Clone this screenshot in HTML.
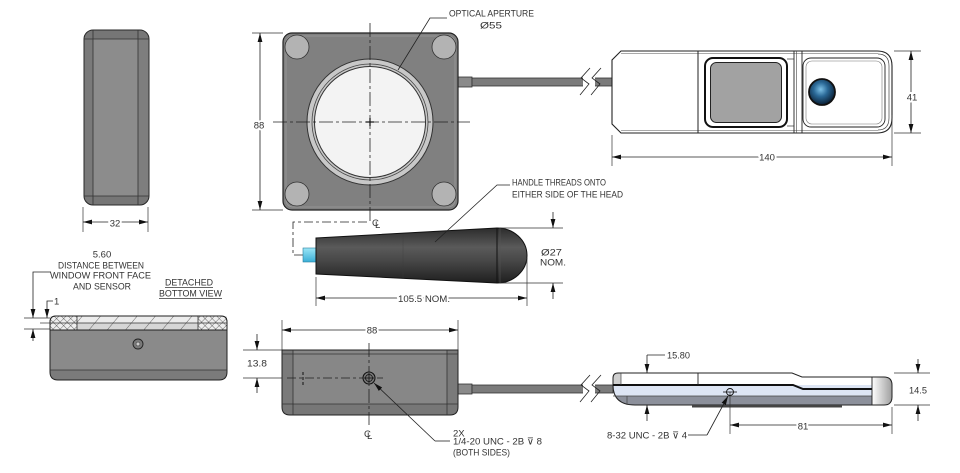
<!DOCTYPE html>
<html><head><meta charset="utf-8"><style>
html,body{margin:0;padding:0;background:#fff;}
svg{display:block}
text{font-family:"Liberation Sans","DejaVu Sans",sans-serif;font-size:9.5px;fill:#333;}
.h{paint-order:stroke;stroke:#fff;stroke-width:4px;stroke-linejoin:round}
.d{stroke:#222;stroke-width:0.8;fill:none}
.e{stroke:#333;stroke-width:0.7;fill:none}
.c{stroke:#222;stroke-width:0.8;fill:none;stroke-dasharray:14 3 3 3}
</style></head><body>
<svg width="960" height="473" viewBox="0 0 960 473" xmlns="http://www.w3.org/2000/svg">
<defs>
<marker id="a" markerUnits="userSpaceOnUse" markerWidth="9" markerHeight="6" refX="9" refY="3" orient="auto-start-reverse"><path d="M0,0.6 L9,3 L0,5.4z" fill="#111"/></marker>
<linearGradient id="hg" x1="0" y1="0" x2="0" y2="1">
<stop offset="0" stop-color="#2c2c2c"/><stop offset="0.35" stop-color="#5a5a5a"/><stop offset="0.6" stop-color="#474747"/><stop offset="1" stop-color="#1f1f1f"/></linearGradient>
<linearGradient id="st" x1="0" y1="0" x2="0" y2="1"><stop offset="0" stop-color="#9be6f7"/><stop offset="1" stop-color="#3aaed6"/></linearGradient>
<radialGradient id="bd" cx="0.45" cy="0.4" r="0.6"><stop offset="0" stop-color="#7cc0e6"/><stop offset="0.45" stop-color="#2a6896"/><stop offset="1" stop-color="#0a1e33"/></radialGradient>
<linearGradient id="re" x1="0" y1="0" x2="1" y2="0"><stop offset="0" stop-color="#fff"/><stop offset="1" stop-color="#9a9a9a"/></linearGradient>
<pattern id="hx" width="14" height="14" patternUnits="userSpaceOnUse" patternTransform="rotate(40)"><line x1="0" y1="0" x2="0" y2="14" stroke="#444" stroke-width="0.8"/></pattern>
<pattern id="cx" width="5" height="5" patternUnits="userSpaceOnUse" patternTransform="rotate(45)"><line x1="0" y1="0" x2="0" y2="5" stroke="#333" stroke-width="0.7"/><line x1="0" y1="0" x2="5" y2="0" stroke="#333" stroke-width="0.7"/></pattern>
<clipPath id="sv"><rect x="84" y="30" width="65" height="175" rx="9"/></clipPath>
<clipPath id="sc"><path d="M618,373 H792 L802,377 H884 Q892,377 892,385 V397 Q892,405 884,405 H635 Q613,405 613,385 V378 Q613,373 618,373 Z"/></clipPath>
<clipPath id="fv"><path d="M282,350 H458 V407 Q458,415 450,415 H290 Q282,415 282,407 Z"/></clipPath>
<clipPath id="bv"><path d="M50,330 H227 V372 Q227,380 219,380 H58 Q50,380 50,372 Z"/></clipPath>
</defs>

<!-- ===== Top-left side view ===== -->
<g clip-path="url(#sv)">
<rect x="84" y="30" width="65" height="175" fill="#8c8c8c"/>
<rect x="84" y="30" width="9" height="175" fill="#7a7a7a"/>
<rect x="138" y="30" width="11" height="175" fill="#7e7e7e"/>
<rect x="84" y="30" width="65" height="9" fill="#767676"/>
<rect x="84" y="196" width="65" height="9" fill="#767676"/>
</g>
<rect x="84" y="30" width="65" height="175" rx="9" fill="none" stroke="#2a2a2a" stroke-width="1"/>
<line x1="93" y1="30" x2="93" y2="205" stroke="#333" stroke-width="0.8"/>
<line x1="138" y1="30" x2="138" y2="205" stroke="#333" stroke-width="0.8"/>
<line x1="84" y1="39" x2="149" y2="39" stroke="#333" stroke-width="0.8"/>
<line x1="84" y1="196" x2="149" y2="196" stroke="#333" stroke-width="0.8"/>
<line class="e" x1="83" y1="207" x2="83" y2="232"/>
<line class="e" x1="148" y1="207" x2="148" y2="232"/>
<line class="d" x1="83" y1="222" x2="148" y2="222" marker-start="url(#a)" marker-end="url(#a)"/>
<text class="h" x="115" y="226.5" text-anchor="middle">32</text>

<!-- ===== Head front ===== -->
<line class="e" x1="252" y1="33" x2="283" y2="33"/>
<line class="e" x1="252" y1="210" x2="283" y2="210"/>
<line class="d" x1="260" y1="33" x2="260" y2="210" marker-start="url(#a)" marker-end="url(#a)"/>
<text class="h" x="259" y="128.5" text-anchor="middle">88</text>

<rect x="458" y="77" width="14" height="10" fill="#8a8a8a" stroke="#333" stroke-width="0.8"/>
<rect x="472" y="78" width="141" height="8" fill="#7b7b7b" stroke="#333" stroke-width="0.8"/>
<rect x="583" y="66" width="12" height="32" fill="#fff"/>
<path d="M590,68 L581,78 L589,84 L580,95" class="d" stroke-width="1"/>
<path d="M601,68 L592,78 L600,84 L591,95" class="d" stroke-width="1"/>

<rect x="283" y="33" width="175" height="177" rx="9" fill="#808080" stroke="#222" stroke-width="1.2"/>
<rect x="286" y="36" width="169" height="171" rx="7" fill="none" stroke="#9a9a9a" stroke-width="0.8"/>
<circle cx="297" cy="47" r="12" fill="#b3b3b3" stroke="#333" stroke-width="0.8"/>
<circle cx="444" cy="47" r="12" fill="#b3b3b3" stroke="#333" stroke-width="0.8"/>
<circle cx="297" cy="194" r="12" fill="#b3b3b3" stroke="#333" stroke-width="0.8"/>
<circle cx="444" cy="194" r="12" fill="#b3b3b3" stroke="#333" stroke-width="0.8"/>
<circle cx="370" cy="122" r="63" fill="#c8c8c8" stroke="#333" stroke-width="1"/>
<circle cx="370" cy="122" r="58" fill="none" stroke="#444" stroke-width="0.8"/>
<circle cx="370" cy="122" r="55.5" fill="#f3f3f3" stroke="#333" stroke-width="1"/>
<line class="c" x1="273" y1="122" x2="470" y2="122"/>
<line class="c" x1="370" y1="23" x2="370" y2="222"/>
<line x1="366" y1="122" x2="374" y2="122" stroke="#111" stroke-width="1.2"/>
<line x1="370" y1="118" x2="370" y2="126" stroke="#111" stroke-width="1.2"/>

<path class="d" d="M398,70 L430,18 L447,18"/>
<text x="449" y="16.5" textLength="85" lengthAdjust="spacingAndGlyphs">OPTICAL APERTURE</text>
<text x="480" y="28.5" textLength="22" lengthAdjust="spacingAndGlyphs">Ø55</text>

<!-- ===== Top right device ===== -->
<path d="M621,51 H877 Q892,51 892,66 V118 Q892,133 877,133 H621 L612,124 V60 Z" fill="#fff" stroke="#222" stroke-width="1.1"/>
<line x1="621" y1="53.5" x2="878" y2="53.5" stroke="#555" stroke-width="0.6"/>
<line x1="621" y1="130.5" x2="878" y2="130.5" stroke="#555" stroke-width="0.6"/>
<path d="M878,54 Q889,54 889,66 V118 Q889,130 878,130" fill="none" stroke="#444" stroke-width="0.7"/>
<line x1="698" y1="51" x2="698" y2="133" stroke="#222" stroke-width="1"/>
<line x1="794" y1="51" x2="794" y2="133" stroke="#222" stroke-width="0.9"/>
<line x1="796.5" y1="51" x2="796.5" y2="133" stroke="#444" stroke-width="0.6"/>
<line x1="802" y1="51" x2="802" y2="133" stroke="#222" stroke-width="0.9"/>
<line x1="787" y1="59" x2="794" y2="59" stroke="#333" stroke-width="0.7"/>
<line x1="787" y1="126" x2="794" y2="126" stroke="#333" stroke-width="0.7"/>
<rect x="705" y="58" width="82" height="69" rx="8" fill="#fff" stroke="#111" stroke-width="2"/>
<rect x="710.5" y="62.5" width="71" height="60" rx="6" fill="#a2a2a2" stroke="#222" stroke-width="1"/>
<rect x="803" y="58" width="82" height="69" rx="8" fill="none" stroke="#222" stroke-width="0.9"/>
<rect x="806" y="61" width="76" height="63" rx="6" fill="none" stroke="#777" stroke-width="0.6"/>
<circle cx="822" cy="92" r="13" fill="url(#bd)" stroke="#111" stroke-width="1.8"/>

<line class="e" x1="894" y1="51" x2="921" y2="51"/>
<line class="e" x1="894" y1="133" x2="921" y2="133"/>
<line class="d" x1="911" y1="51" x2="911" y2="133" marker-start="url(#a)" marker-end="url(#a)"/>
<text class="h" x="912" y="100.5" text-anchor="middle">41</text>
<line class="e" x1="612" y1="135" x2="612" y2="166"/>
<line class="e" x1="892" y1="115" x2="892" y2="166"/>
<line class="d" x1="612" y1="157" x2="892" y2="157" marker-start="url(#a)" marker-end="url(#a)"/>
<text class="h" x="767" y="160.5" text-anchor="middle">140</text>

<!-- ===== Handle ===== -->
<path d="M303,255 H293 V222 H370" fill="none" stroke="#222" stroke-width="0.8" stroke-dasharray="9 3 3 3"/>
<text x="372" y="226" font-size="10">C</text><text x="375" y="228" font-size="8">L</text>
<rect x="303" y="248" width="13" height="14" fill="url(#st)" stroke="#2a7f9e" stroke-width="0.6"/>
<path d="M316,238 L497,228 A30,27.5 0 0 1 497,283 L316,274 Z" fill="url(#hg)" stroke="#111" stroke-width="1"/>
<line x1="497" y1="228" x2="497" y2="283" stroke="#111" stroke-width="1"/>
<line x1="500" y1="228" x2="500" y2="283" stroke="#555" stroke-width="0.6"/>
<line x1="403" y1="234" x2="403" y2="279" stroke="#3a3a3a" stroke-width="0.5" opacity="0.6"/>
<path class="d" d="M435,242 L497,185 L510,185"/>
<text x="512" y="185.5" textLength="94" lengthAdjust="spacingAndGlyphs">HANDLE THREADS ONTO</text>
<text x="512" y="197.5" textLength="111" lengthAdjust="spacingAndGlyphs">EITHER SIDE OF THE HEAD</text>
<line class="e" x1="500" y1="228" x2="563" y2="228"/>
<line class="e" x1="500" y1="283" x2="563" y2="283"/>
<line class="d" x1="553" y1="212" x2="553" y2="228" marker-end="url(#a)"/>
<line class="d" x1="553" y1="299" x2="553" y2="283" marker-end="url(#a)"/>
<text x="541" y="255.5" textLength="21" lengthAdjust="spacingAndGlyphs">Ø27</text>
<text x="540" y="265.5" textLength="26" lengthAdjust="spacingAndGlyphs">NOM.</text>
<line class="e" x1="316" y1="277" x2="316" y2="306"/>
<line class="e" x1="527" y1="258" x2="527" y2="306"/>
<line class="d" x1="316" y1="298" x2="527" y2="298" marker-start="url(#a)" marker-end="url(#a)"/>
<text class="h" x="398" y="302" textLength="52" lengthAdjust="spacingAndGlyphs">105.5 NOM.</text>

<!-- ===== Bottom-left detached view ===== -->
<text x="102" y="257.5" text-anchor="middle">5.60</text>
<text x="58" y="268.5" textLength="86" lengthAdjust="spacingAndGlyphs">DISTANCE BETWEEN</text>
<text x="50" y="278.5" textLength="101" lengthAdjust="spacingAndGlyphs">WINDOW FRONT FACE</text>
<text x="73" y="289.5" textLength="58" lengthAdjust="spacingAndGlyphs">AND SENSOR</text>
<text x="165" y="285.5" textLength="48" lengthAdjust="spacingAndGlyphs">DETACHED</text>
<line x1="165" y1="287.5" x2="213" y2="287.5" stroke="#333" stroke-width="0.7"/>
<text x="159" y="296.5" textLength="63" lengthAdjust="spacingAndGlyphs">BOTTOM VIEW</text>
<line x1="159" y1="298.5" x2="222" y2="298.5" stroke="#333" stroke-width="0.7"/>
<path class="d" d="M51,272 H33 V318" marker-end="url(#a)"/>
<line class="d" x1="33" y1="341" x2="33" y2="329" marker-end="url(#a)"/>
<path class="d" d="M53,301 H47 V318" marker-end="url(#a)"/>
<text x="54" y="304.5">1</text>
<line class="e" x1="24" y1="318" x2="50" y2="318"/>
<line class="e" x1="24" y1="329" x2="50" y2="329"/>
<line class="e" x1="40" y1="323" x2="50" y2="323"/>

<rect x="50" y="316" width="177" height="7" fill="#ececec"/>
<rect x="50" y="316" width="177" height="7" fill="url(#hx)"/>
<rect x="50" y="323" width="177" height="7" fill="#d6d6d6"/>
<rect x="50" y="323" width="177" height="7" fill="url(#hx)"/>
<path d="M56,316 H77 V330 H50 V322 Q50,316 56,316 Z" fill="#eee"/>
<path d="M56,316 H77 V330 H50 V322 Q50,316 56,316 Z" fill="url(#cx)" stroke="#333" stroke-width="0.8"/>
<path d="M198,316 H221 Q227,316 227,322 V330 H198 Z" fill="#eee"/>
<path d="M198,316 H221 Q227,316 227,322 V330 H198 Z" fill="url(#cx)" stroke="#333" stroke-width="0.8"/>
<path d="M56,316 H221 Q227,316 227,322 V330 H50 V322 Q50,316 56,316 Z" fill="none" stroke="#222" stroke-width="1"/>
<line x1="50" y1="323" x2="227" y2="323" stroke="#333" stroke-width="0.8"/>
<g clip-path="url(#bv)">
<rect x="50" y="330" width="177" height="50" fill="#8a8a8a"/>
<rect x="50" y="370" width="177" height="10" fill="#7b7b7b"/>
</g>
<path d="M50,330 H227 V372 Q227,380 219,380 H58 Q50,380 50,372 Z" fill="none" stroke="#222" stroke-width="1"/>
<line x1="50" y1="370" x2="227" y2="370" stroke="#333" stroke-width="0.8"/>
<circle cx="138" cy="344" r="5" fill="#7a7a7a" stroke="#222" stroke-width="0.9"/>
<circle cx="138" cy="344" r="2" fill="#ccc" stroke="#333" stroke-width="0.5"/>

<!-- ===== Bottom center front view ===== -->
<line class="e" x1="282" y1="320" x2="282" y2="350"/>
<line class="e" x1="458" y1="320" x2="458" y2="350"/>
<line class="d" x1="282" y1="330" x2="458" y2="330" marker-start="url(#a)" marker-end="url(#a)"/>
<text class="h" x="372" y="333.5" text-anchor="middle">88</text>
<line class="e" x1="243" y1="350" x2="282" y2="350"/>
<line class="e" x1="243" y1="378" x2="282" y2="378"/>
<line class="d" x1="257" y1="334" x2="257" y2="350" marker-end="url(#a)"/>
<line class="d" x1="257" y1="393" x2="257" y2="378" marker-end="url(#a)"/>
<text x="247" y="366.5" textLength="20" lengthAdjust="spacingAndGlyphs">13.8</text>

<rect x="458" y="384" width="14" height="10" fill="#8a8a8a" stroke="#333" stroke-width="0.8"/>
<rect x="472" y="385" width="141" height="8" fill="#7b7b7b" stroke="#333" stroke-width="0.8"/>
<rect x="583" y="373" width="12" height="32" fill="#fff"/>
<path d="M590,375 L581,385 L589,391 L580,402" class="d" stroke-width="1"/>
<path d="M601,375 L592,385 L600,391 L591,402" class="d" stroke-width="1"/>

<g clip-path="url(#fv)">
<rect x="282" y="350" width="176" height="65" fill="#878787"/>
<rect x="282" y="350" width="11" height="65" fill="#7a7a7a"/>
<rect x="447" y="350" width="11" height="65" fill="#7a7a7a"/>
<rect x="282" y="404" width="176" height="11" fill="#777"/>
</g>
<path d="M282,350 H458 V407 Q458,415 450,415 H290 Q282,415 282,407 Z" fill="none" stroke="#222" stroke-width="1"/>
<line x1="293" y1="350" x2="293" y2="415" stroke="#333" stroke-width="0.8"/>
<line x1="447" y1="350" x2="447" y2="415" stroke="#333" stroke-width="0.8"/>
<line x1="282" y1="354" x2="458" y2="354" stroke="#333" stroke-width="0.8"/>
<line x1="282" y1="404" x2="458" y2="404" stroke="#333" stroke-width="0.8"/>
<line x1="287" y1="378" x2="383" y2="378" stroke="#222" stroke-width="0.8" stroke-dasharray="9 3 3 3"/>
<line x1="303" y1="372" x2="303" y2="385" stroke="#111" stroke-width="1" stroke-dasharray="3 2"/>
<line class="c" x1="369" y1="343" x2="369" y2="425"/>
<circle cx="369" cy="378" r="6" fill="#777" stroke="#111" stroke-width="1.1"/>
<circle cx="369" cy="378" r="3.5" fill="none" stroke="#111" stroke-width="0.8"/>
<line x1="364" y1="378" x2="374" y2="378" stroke="#111" stroke-width="0.8"/>
<line x1="369" y1="373" x2="369" y2="383" stroke="#111" stroke-width="0.8"/>
<text x="364" y="437" font-size="10">C</text><text x="367" y="439" font-size="8">L</text>
<path class="d" d="M435,441 L374,383" marker-end="url(#a)"/>
<line class="d" x1="435" y1="441" x2="450" y2="441"/>
<text x="453" y="436.5">2X</text>
<text x="453" y="444.5" textLength="89" lengthAdjust="spacingAndGlyphs">1/4-20 UNC - 2B ⊽ 8</text>
<text x="453" y="455.5" textLength="57" lengthAdjust="spacingAndGlyphs">(BOTH SIDES)</text>

<!-- ===== Bottom right side view ===== -->
<g clip-path="url(#sc)">
<rect x="613" y="370" width="280" height="40" fill="#fff"/>
<rect x="613" y="385" width="280" height="11" fill="#dde5f4"/>
<rect x="613" y="396" width="280" height="10" fill="#8c909b"/>
<rect x="613" y="370" width="8" height="16" fill="#cfcfcf"/>
<rect x="872" y="370" width="21" height="40" fill="url(#re)"/>
</g>
<path d="M618,373 H792 L802,377 H884 Q892,377 892,385 V397 Q892,405 884,405 H635 Q613,405 613,385 V378 Q613,373 618,373 Z" fill="none" stroke="#222" stroke-width="1"/>
<path d="M613,385 H793 L803,389 H872" fill="none" stroke="#111" stroke-width="2"/>
<line x1="613" y1="396" x2="872" y2="396" stroke="#444" stroke-width="0.7"/>
<line x1="621" y1="373" x2="621" y2="385" stroke="#444" stroke-width="0.7"/>
<line x1="698" y1="373" x2="698" y2="385" stroke="#222" stroke-width="0.9"/>
<line x1="627" y1="396" x2="627" y2="405" stroke="#444" stroke-width="0.7"/>
<line x1="872" y1="377" x2="872" y2="405" stroke="#222" stroke-width="0.9"/>
<rect x="692" y="405" width="150" height="2.5" fill="#444"/>
<line class="d" x1="647" y1="355" x2="647" y2="373" marker-end="url(#a)"/>
<line class="d" x1="647" y1="355" x2="665" y2="355"/>
<text x="667" y="358.5" textLength="23" lengthAdjust="spacingAndGlyphs">15.80</text>
<line class="d" x1="647" y1="421" x2="647" y2="405" marker-end="url(#a)"/>
<line class="e" x1="894" y1="373" x2="930" y2="373"/>
<line class="e" x1="894" y1="405" x2="930" y2="405"/>
<line class="d" x1="918" y1="359" x2="918" y2="373" marker-end="url(#a)"/>
<line class="d" x1="918" y1="421" x2="918" y2="405" marker-end="url(#a)"/>
<text x="909" y="393.5" textLength="18" lengthAdjust="spacingAndGlyphs">14.5</text>
<line class="e" x1="730" y1="392" x2="730" y2="434"/>
<line class="e" x1="892" y1="407" x2="892" y2="434"/>
<line class="d" x1="730" y1="425" x2="892" y2="425" marker-start="url(#a)" marker-end="url(#a)"/>
<text class="h" x="803" y="429.5" text-anchor="middle">81</text>
<circle cx="730" cy="392" r="3.5" fill="none" stroke="#111" stroke-width="0.9"/>
<line x1="723" y1="392" x2="737" y2="392" stroke="#111" stroke-width="0.8"/>
<path class="d" d="M707,435 L728,396" marker-end="url(#a)"/>
<line class="d" x1="688" y1="435" x2="707" y2="435"/>
<text x="607" y="438.5" textLength="80" lengthAdjust="spacingAndGlyphs">8-32 UNC - 2B ⊽ 4</text>
</svg>
</body></html>
